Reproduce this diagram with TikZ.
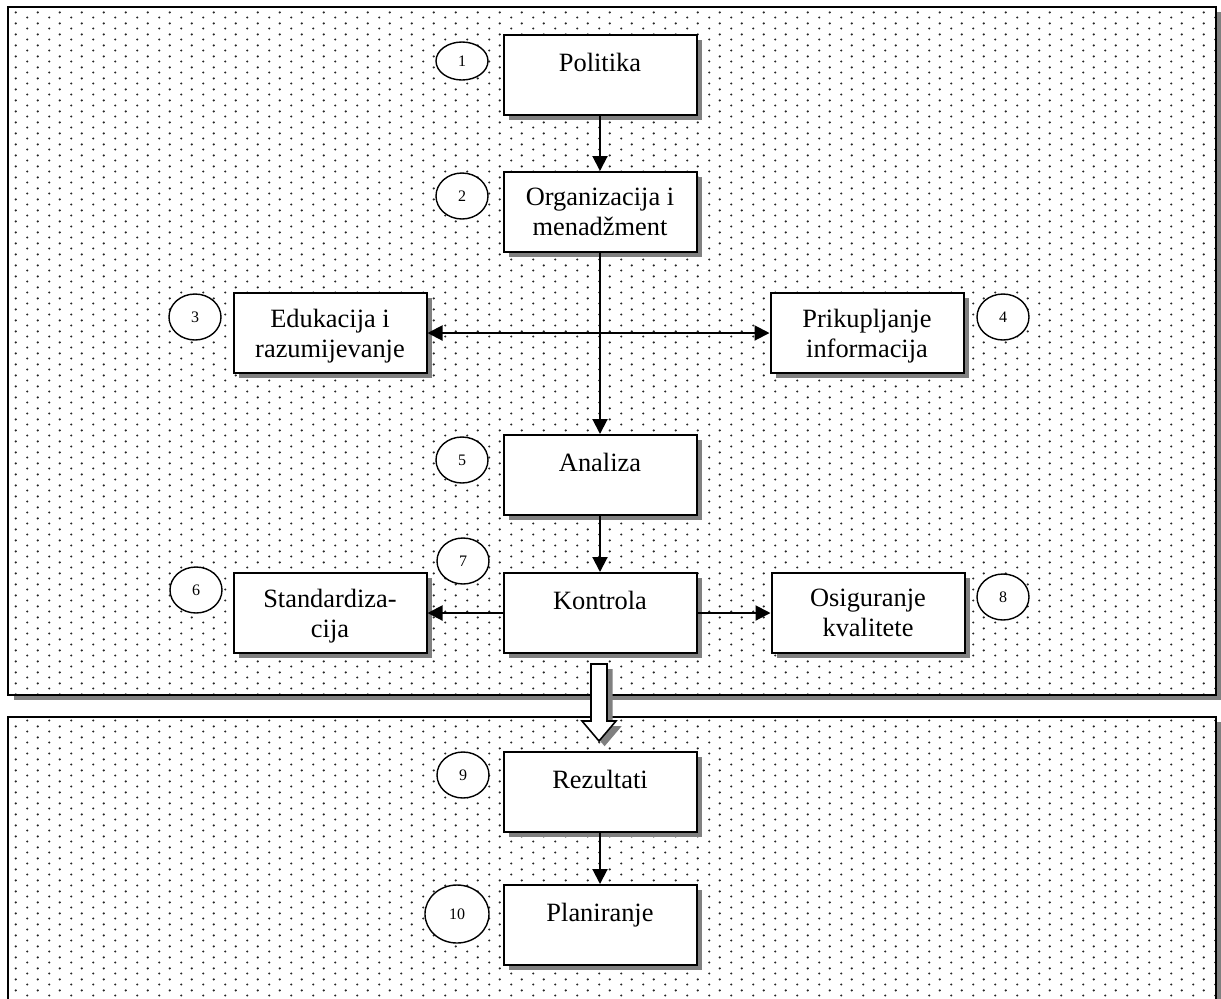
\documentclass[tikz,border=0pt]{standalone}
\usepackage{fontspec}
\setmainfont{Liberation Serif}
\usetikzlibrary{arrows.meta,shapes.geometric,shadows,patterns.meta,calc}

\tikzdeclarepattern{
  name=dotgrid,
  bottom left={(0pt,0pt)},
  top right={(10.75pt,5.3pt)},
  tile size={(10.75pt,5.3pt)},
  code={
    \fill (2.7pt,1.3pt) circle (0.6pt);
    \fill (8.07pt,3.95pt) circle (0.6pt);
  }
}

\begin{document}
\begin{tikzpicture}[
        x=0.5pt, y=-0.5pt,
        shade/.style={drop shadow={shadow xshift=2.8pt, shadow yshift=-2.6pt, fill=black!50, opacity=1}},
        panel/.style={
            shade, preaction={fill=white}, draw, line width=1.4pt,
            pattern=dotgrid, pattern color=black!85
        },
        box/.style={
            shade, draw, fill=white, line width=1pt,
            minimum width=96.5pt, minimum height=40pt,
            align=center, font=\fontsize{13.2}{15}\selectfont
        },
        one/.style={text height=9pt, text depth=13pt},
        two/.style={text depth=-0.5pt},
        num/.style={
            draw, ellipse, fill=white, line width=0.7pt,
            minimum width=26pt, minimum height=23pt, inner sep=0pt,
            font=\fontsize{8}{9}\selectfont
        },
        arr/.style={-{Triangle[length=7.5pt,width=7.5pt]}, line width=1pt},
        hollow/.style={shade, draw, fill=white, line width=0.8pt, line join=miter}
      ]

  \useasboundingbox (0,0) rectangle (1221,998);
  \clip (0,0) rectangle (1221,998);

  \path[panel] (8,7) rectangle (1216,695);
  \path[panel] (8,717) rectangle (1216,1030);

  \node[box,one] (politika) at (600,75) {Politika};
  \node[box,two] (organizacija) at (600,212) {Organizacija i\\menadžment};
  \node[box,two] (edukacija) at (330,333) {Edukacija i\\razumijevanje};
  \node[box,two] (prikupljanje) at (867,333) {Prikupljanje\\informacija};
  \node[box,one] (analiza) at (600,475) {Analiza};
  \node[box,one] (kontrola) at (600,613) {Kontrola};
  \node[box,two] (standard) at (330,613) {Standardiza-\\cija};
  \node[box,two] (osiguranje) at (868,613) {Osiguranje\\kvalitete};
  \node[box,one] (rezultati) at (600,792) {Rezultati};
  \node[box,one] (planiranje) at (600,925) {Planiranje};

  \node[num, minimum height=19pt] (n1) at (462,61) {1};
  \node[num] (n2) at (462,196) {2};
  \node[num] (n3) at (195,317) {3};
  \node[num] (n4) at (1003,317) {4};
  \node[num] (n5) at (462,460) {5};
  \node[num] (n6) at (196,590) {6};
  \node[num] (n7) at (463,561) {7};
  \node[num] (n8) at (1003,597) {8};
  \node[num] (n9) at (463,775) {9};
  \node[num, minimum width=32pt, minimum height=29pt] (n10) at (457,914) {10};

  \coordinate (hub) at (organizacija.south |- edukacija.east);

  \draw[arr] (politika) -- (organizacija);
  \draw[arr] (organizacija) -- (analiza);
  \draw[arr] (hub) -- (edukacija);
  \draw[arr] (hub) -- (prikupljanje);
  \draw[arr] (analiza) -- (kontrola);
  \draw[arr] (kontrola) -- (standard);
  \draw[arr] (kontrola) -- (osiguranje);
  \draw[arr] (rezultati) -- (planiranje);

  \coordinate (ktop) at ($(kontrola.south)+(-1,10)$);
  \coordinate (rtip) at ($(rezultati.north)+(-1,-10)$);
  \path[hollow] ($(ktop)+(-8,0)$) -- ($(ktop)+(8,0)$) -- ($(rtip)+(8,-20)$)
    -- ($(rtip)+(17,-20)$) -- (rtip) -- ($(rtip)+(-17,-20)$)
    -- ($(rtip)+(-8,-20)$) -- cycle;
\end{tikzpicture}
\end{document}
